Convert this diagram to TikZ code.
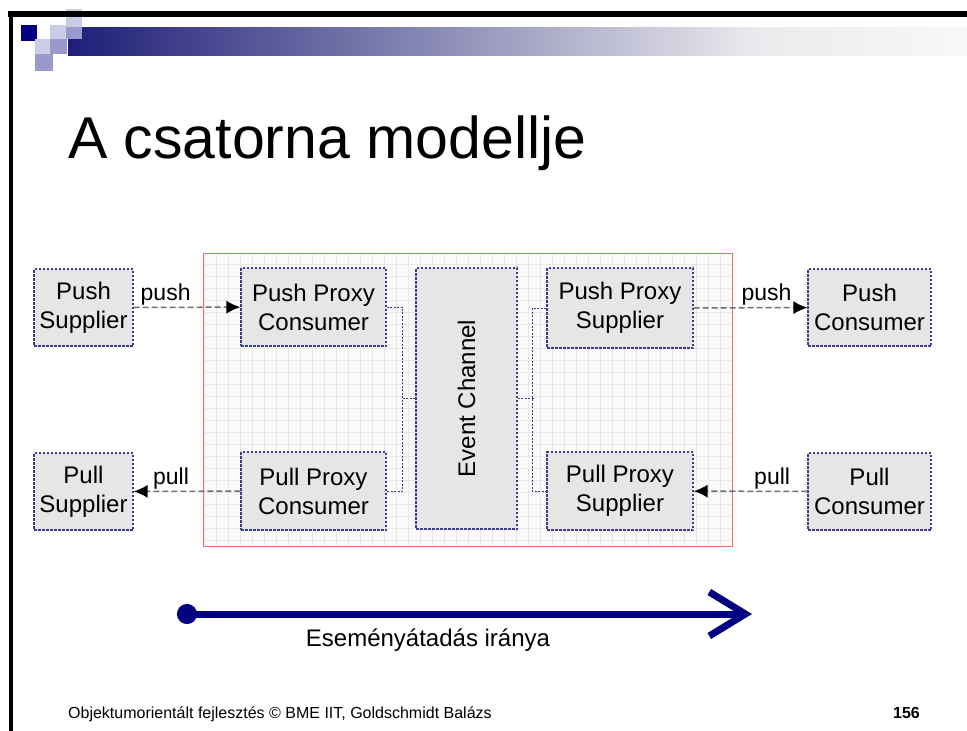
\documentclass[tikz,border=0pt]{standalone}
\usepackage{fontspec}
\setmainfont{Liberation Sans}
\usetikzlibrary{positioning,arrows.meta}
\definecolor{SlideNavy}{RGB}{0,0,128}
\definecolor{BarNavy}{RGB}{30,30,120}
\definecolor{BarPale}{RGB}{235,235,238}
\definecolor{BarWhite}{RGB}{248,248,248}
\definecolor{SquareLight}{RGB}{204,204,230}
\definecolor{SquareMid}{RGB}{153,153,204}
\definecolor{BoxBorder}{RGB}{60,60,140}
\definecolor{BoxFill}{RGB}{230,230,230}
\definecolor{FrameRed}{RGB}{240,110,110}
\definecolor{FrameFill}{RGB}{250,250,250}
\definecolor{GridGray}{RGB}{232,232,232}
\definecolor{FlowGray}{RGB}{110,110,110}

\begin{document}
\begin{tikzpicture}[x=1pt,y=-1pt,
	box/.style={
		draw=BoxBorder,
		fill=BoxFill,
		dash pattern=on 2.5pt off 1.5pt,
		line width=1.2pt,
		inner sep=0pt,
		align=center,
		font=\fontsize{24}{29}\selectfont
	},
	flow/.style={
		FlowGray,
		line width=1.5pt,
		dash pattern=on 6pt off 3pt,
		-{Latex[black,length=14pt,width=13pt]}
	},
	flowlabel/.style={
		text=black,
		font=\fontsize{23}{25}\selectfont,
		inner sep=1.5pt
	},
	link/.style={
		BoxBorder,
		line width=1pt,
		dash pattern=on 2pt off 1.5pt
	}]
				
				\useasboundingbox (0,0) rectangle (967,731);
				
				% header
				\fill[SquareLight] (66,9) rectangle ++(16,18);
				\shade[left color=BarNavy,right color=BarPale] (68,27) rectangle (760,55);
				\shade[left color=BarPale,right color=BarWhite] (760,27) rectangle (967,55);
				\fill[SlideNavy] (21,25) rectangle ++(16,16);
				\fill[SquareLight] (50,25) rectangle ++(16,14);
				\fill[SquareMid] (66,27) rectangle ++(16,12);
				\fill[SquareLight] (35,39) rectangle ++(15,15);
				\fill[SquareMid] (50,39) rectangle ++(17,15);
				\fill[SquareMid] (35,54) rectangle ++(18,17);
				\fill[black] (8,11) rectangle (967,17);
				\fill[black] (9,11) rectangle (13,731);
				
				\node[
				anchor=base west,
				inner sep=0pt,
				font=\fontsize{59}{60}\selectfont
				]
				(T) at (68,158)
				{A csatorna modellje};
				
				% channel frame
				\fill[FrameFill] (203,253) rectangle (732,546);
				\draw[GridGray,step=12pt] (203,253) grid (732,546);
				\draw[FrameRed,line width=1pt] (203,253) rectangle (732,546);
				
				\node[box,minimum width=99pt,minimum height=77pt] (PS) at (83.5,307.5) {Push\\Supplier};
				\node[box,minimum width=99pt,minimum height=77pt] (PLS) at (83.5,491.5) {Pull\\Supplier};
				\node[box,minimum width=145pt,minimum height=78pt] (PPC) at (313.5,307) {Push Proxy\\Consumer};
				\node[box,minimum width=145pt,minimum height=78pt] (PLPC) at (313.5,491) {Pull Proxy\\Consumer};
				\node[box,minimum width=101pt,minimum height=261pt] (EC) at (466.5,398.5) {};
				\node[rotate=90,font=\fontsize{24}{29}\selectfont] (ECT) at (EC.center) {Event Channel};
				\node[box,minimum width=146pt,minimum height=80pt] (PPS) at (620,308) {Push Proxy\\Supplier};
				\node[box,minimum width=146pt,minimum height=78pt] (PLPS) at (620,491) {Pull Proxy\\Supplier};
				\node[box,minimum width=123pt,minimum height=77pt] (PC) at (869.5,307.5) {Push\\Consumer};
				\node[box,minimum width=123pt,minimum height=77pt] (PLC) at (869.5,491.5) {Pull\\Consumer};
				
				\draw[flow] (PS) -- node[flowlabel,above,pos=0.3] {push} (PPC);
				\draw[flow] (PLPC) -- node[flowlabel,above,pos=0.65] {pull} (PLS);
				\draw[flow] (PPS) -- node[flowlabel,above,pos=0.64] {push} (PC);
				\draw[flow] (PLC) -- node[flowlabel,above,pos=0.31] {pull} (PLPS);
				
				\draw[link] (PPC.east) -- ++(16,0) |- (PLPC.east);
				\draw[link] (EC.west) -- ++(-14,0);
				\draw[link] (PPS.west) -- ++(-14,0) |- (PLPS.west);
				\draw[link] (EC.east) -- ++(16,0);
				
				% direction arrow
				\coordinate (DS) at (177,614);
				\coordinate (DE) at (752,614);
				\draw[SlideNavy,line width=7pt,{Circle[length=20pt]}-{Straight Barb[length=36pt,width=44pt]}] (DS) -- (DE);
				\node[font=\fontsize{24}{26}\selectfont] (DL) at (428,640) {Eseményátadás iránya};
				
				% footer
				\node[
				anchor=base west,
				inner sep=0pt,
				font=\fontsize{16}{17}\selectfont
				]
				(F) at (68,718)
				{Objektumorientált fejlesztés © BME IIT, Goldschmidt Balázs};
				
				\node[
				anchor=base east,
				inner sep=0pt,
				font=\fontsize{16}{17}\selectfont\bfseries
				]
				(N) at (920,718)
				{156};
				
			\end{tikzpicture}
\end{document}
